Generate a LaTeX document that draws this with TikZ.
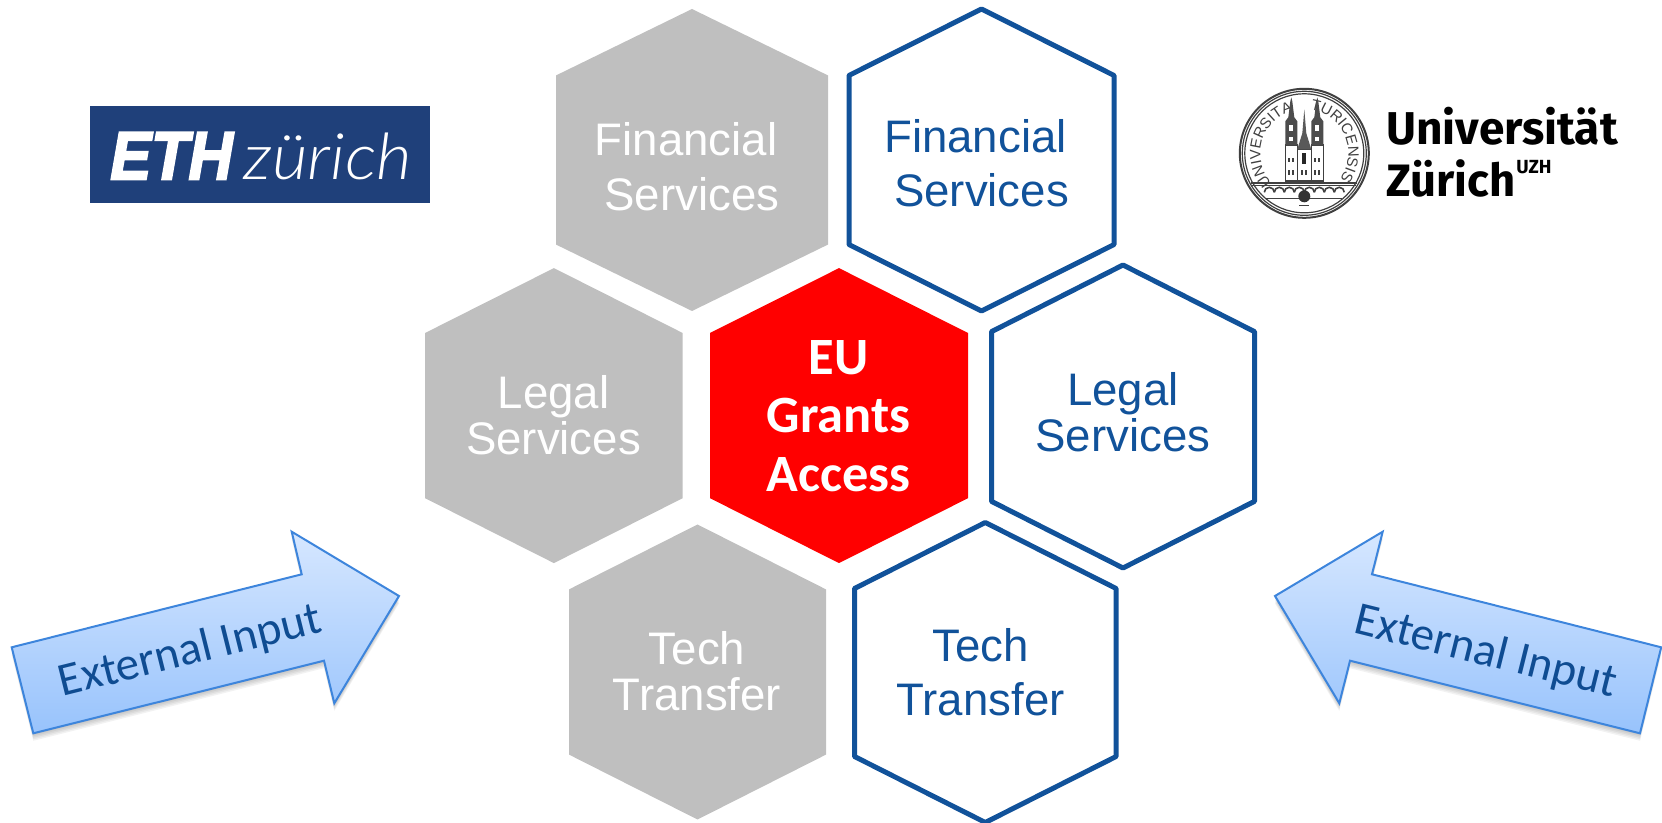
\documentclass[tikz,border=0pt]{standalone}
\usepackage{fontspec}
\setmainfont{Liberation Sans}
\newfontfamily\callfont{Carlito}
\newfontfamily\ethfont[FakeBold=3,FakeStretch=.9]{Liberation Sans}
\newfontfamily\zurfont[FakeStretch=1.08,ItalicFont={Lato Light Italic}]{Lato Light}
\newfontfamily\uzhfont{Fira Sans}
\usetikzlibrary{decorations.text}
\definecolor{hexgray}{HTML}{BFBFBF}
\definecolor{hexblue}{HTML}{11529A}
\definecolor{ethblue}{HTML}{1F407A}
\definecolor{inputtext}{HTML}{0F4C92}
\definecolor{inputedge}{HTML}{3D85DC}
\definecolor{inputtop}{HTML}{D6E7FF}
\definecolor{inputbot}{HTML}{98C3FC}
\tikzset{
	hexfull/.style={fill=hexgray},
	hexline/.style={draw=hexblue,line width=2.5pt,line join=round},
	hexmain/.style={fill=red},
	graytext/.style={text=white,align=center,inner sep=0pt,font=\fontsize{22.8}{#1}\selectfont},
	bluetext/.style={text=hexblue,align=center,inner sep=0pt,font=\fontsize{22.8}{#1}\selectfont},
	maintext/.style={text=white,align=center,inner sep=0pt,font=\callfont\bfseries\fontsize{26.2}{29.2}\selectfont},
	inputlabel/.style={text=inputtext,inner sep=0pt,anchor=base,font=\callfont\fontsize{23.5}{28}\selectfont},
	inputfill/.style={draw=inputedge,line width=1pt,line join=miter,top color=inputtop,bottom color=inputbot},
	inputshade/.style={fill=black,fill opacity=.05},
	leftshape/.style={insert path={(11.7,647.3) -- (301.7,574.3) -- (291.7,531.7) -- (399,596) -- (334.3,703.3) -- (324,660.7) -- (33.3,733.3) -- cycle}},
	rightshape/.style={insert path={(1275,596) -- (1382.7,531.7) -- (1372,574.3) -- (1661.2,647.3) -- (1640,733.3) -- (1350,660.7) -- (1339.3,703.3) -- cycle}},
	sealink/.style={draw=black!75},
}
% hexagon: style, centre x, centre y, width, height
\newcommand{\hexcell}[5]{
	\path[#1] ({#2-#4/2},{#3-.28*#5}) -- (#2,{#3-#5/2}) -- ({#2+#4/2},{#3-.28*#5})
		-- ({#2+#4/2},{#3+.28*#5}) -- (#2,{#3+#5/2}) -- ({#2-#4/2},{#3+.28*#5}) -- cycle;
}
\begin{document}
\begin{tikzpicture}[x=.5pt,y=-.5pt]
	\useasboundingbox (0,0) rectangle (1662,823);

	% grey column
	\hexcell{hexfull}{692}{160}{272}{302}
	\hexcell{hexfull}{553.9}{415.6}{257.6}{295}
	\hexcell{hexfull}{697.5}{672}{257}{295}
	% blue column
	\hexcell{hexline}{981.5}{160}{265}{302}
	\hexcell{hexline}{1123}{416.5}{263}{303}
	\hexcell{hexline}{985.3}{672.5}{261.6}{300}
	% centre
	\hexcell{hexmain}{839}{415.6}{258}{295}

	\node[graytext=27.5] (finleft) at (692,166.5) {Financial\hspace*{6pt}\\Services};
	\node[graytext=23.2] (legleft) at (553.5,415) {Legal\\Services};
	\node[graytext=23.2] (techleft) at (697,671) {Tech\\Transfer};
	\node[bluetext=27] (finright) at (981.5,163.5) {Financial\hspace*{6pt}\\Services};
	\node[bluetext=23.2] (legright) at (1123,412.5) {Legal\\Services};
	\node[bluetext=27] (techright) at (980.5,672) {Tech\\Transfer};
	\node[maintext] (grants) at (838.6,416) {EU\\Grants\\Access};

	% input arrows
	\foreach \dy in {1.5,3,4.5,6,7.5}{
		\path[inputshade,yshift=-\dy*.5pt,leftshape];
		\path[inputshade,yshift=-\dy*.5pt,rightshape];
	}
	\path[inputfill,leftshape];
	\path[inputfill,rightshape];
	\node[inputlabel,rotate=14] (inleft) at (193.3,664) {External Input};
	\node[inputlabel,rotate=-14] (inright) at (1482.4,665) {External Input};

	% eth logo
	\node[fill=ethblue,minimum width=170pt,minimum height=48.35pt,inner sep=0pt] (ethbox) at (260,154.35) {};
	\node[text=white,inner sep=0pt,anchor=base west,font=\ethfont\bfseries\itshape\fontsize{34}{34}\selectfont] (ethname) at (110,179.3) {ETH};
	\node[text=white,inner sep=0pt,anchor=base west,font=\zurfont\itshape\fontsize{32}{34}\selectfont] (ethcity) at (243,179.3) {zürich};

	% uzh logo
	\node[inner sep=0pt,anchor=base west,font=\uzhfont\bfseries\fontsize{23}{23}\selectfont] (uniname) at (1386,145) {Universität};
	\node[inner sep=0pt,anchor=base west,font=\uzhfont\bfseries\fontsize{22.7}{23}\selectfont] (unicity) at (1386,196.7) {Zürich};
	\node[inner sep=0pt,anchor=base west,font=\uzhfont\bfseries\fontsize{9.5}{10}\selectfont] (unitag) at (1516,174) {UZH};

	% seal
	\begin{scope}[shift={(1304.3,153.3)},x=.5pt,y=.5pt]
		\draw[sealink,line width=1pt] (0,0) circle (64.5);
		\draw[sealink,line width=.6pt] (0,0) circle (62);
		\draw[sealink,line width=.6pt] (0,0) circle (59.5);
		\path[decorate,decoration={text along path,text align=center,
			text={|\fontsize{7.5}{9}\selectfont\color{black!75}|UNIVERSITAS}}]
			(214:44) arc (214:100:44);
		\path[decorate,decoration={text along path,text align=center,
			text={|\fontsize{7.5}{9}\selectfont\color{black!75}|TURICENSIS}}]
			(80:44) arc (80:-34:44);
		% ground and bridge
		\draw[sealink,line width=1.2pt] (-53,-29.5) -- (53,-29.5);
		\draw[sealink,line width=.6pt] (-52,-32) -- (52,-32);
		\foreach \ax in {-40,-30,-20,-10,0,10,20,30}{
			\draw[sealink,line width=.8pt] (\ax,-39) arc (180:0:5);
		}
		\draw[sealink,line width=.5pt] (-38,-45) -- (38,-45);
		\fill[black!80] (0,-43) circle (6);
		\draw[sealink,line width=.5pt] (-5,-52) -- (5,-52);
		% towers
		\foreach \tx in {-13,13}{
			\draw[sealink,line width=.8pt,fill=white] (\tx-6,-28) rectangle (\tx+6,8);
			\fill[black!70] (\tx-6,8) -- (\tx-6,32) -- (\tx-3,36) -- (\tx-1,52) -- (\tx,56) -- (\tx+1,52) -- (\tx+3,36) -- (\tx+6,32) -- (\tx+6,8) -- cycle;
			\fill[white] (\tx-2,12) rectangle (\tx+2,16);
			\fill[white] (\tx-2,22) rectangle (\tx+2,28);
			\fill[black!75] (\tx-3,-22) rectangle (\tx-1,-17);
			\fill[black!75] (\tx+1,-22) rectangle (\tx+3,-17);
			\fill[black!75] (\tx-3,-9) rectangle (\tx-1,-5);
			\fill[black!75] (\tx+1,-9) rectangle (\tx+3,-5);
		}
		% nave
		\draw[sealink,line width=.8pt,fill=white] (-7,-28) rectangle (7,4);
		\fill[black!65] (-7,4) -- (-2,20) -- (0,44) -- (2,20) -- (7,4) -- cycle;
		\fill[black!85] (-2,-11) rectangle (2,0);
		\fill[black!75] (-3,-22) rectangle (-1,-17);
		\fill[black!75] (1,-22) rectangle (3,-17);
	\end{scope}
\end{tikzpicture}
\end{document}
